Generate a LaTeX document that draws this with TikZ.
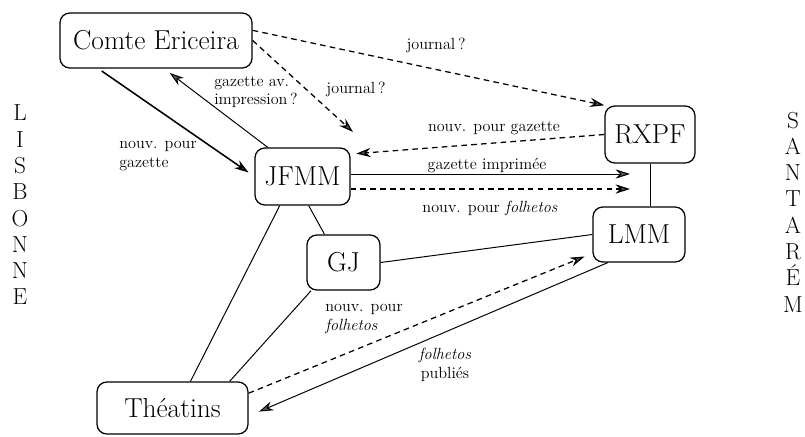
\documentclass[tikz,border=0pt]{standalone}
\usepackage{tikz}
\usetikzlibrary{arrows.meta}

\begin{document}
\begin{tikzpicture}[
    x=0.025cm, y=-0.025cm,
    >={Stealth[length=3.6mm, width=2.3mm, fill=black!65]},
    box/.style={draw, line width=0.9pt, rounded corners=7pt, inner sep=0pt,
        font=\fontsize{19.5}{22}\selectfont},
    lbl/.style={font=\fontsize{11.5}{13}\selectfont, inner sep=0pt},
    city/.style={font=\fontsize{16.5}{18.7}\selectfont, align=center, inner sep=0pt},
    link/.style={line width=0.7pt},
    dashlink/.style={line width=0.9pt, dash pattern=on 4pt off 3pt},
]
\useasboundingbox (0,0) rectangle (805,436);

% === Places ===
\node[city] (lisbonne) at (20,205) {L\\I\\S\\B\\O\\N\\N\\E};
\node[city] (santarem) at (793,212) {S\\A\\N\\T\\A\\R\\É\\M};

% === Actors ===
\node[box, minimum width=4.8cm, minimum height=1.375cm] (comte) at (156,40.5) {Comte Ericeira};
\node[box, minimum width=2.375cm, minimum height=1.425cm] (jfmm) at (302.5,176.5) {JFMM};
\node[box, minimum width=2.25cm, minimum height=1.425cm] (rxpf) at (650,134.5) {RXPF};
\node[box, minimum width=2.3cm, minimum height=1.375cm] (lmm) at (639,234.5) {LMM};
\node[box, minimum width=1.825cm, minimum height=1.375cm] (gj) at (343.5,262.5) {GJ};
\node[box, minimum width=3.775cm, minimum height=1.3cm] (theatins) at (172.5,408) {Théatins};

% free ends
\coordinate (jrntip) at (353,132);
\coordinate (gazend) at (630,174);
\coordinate (folend) at (630,189);

% === Flows from Comte Ericeira ===
\draw[dashlink, ->] (comte.6) -- (rxpf.north west);
\node[lbl] (jrn1) at (436,45) {journal\,?};
\draw[dashlink, ->] (comte.east) -- (jrntip);
\node[lbl] (jrn2) at (356,89) {journal\,?};
\draw[link, line width=1.1pt, ->, shorten <=3pt, shorten >=5pt] (comte.-154) -- (jfmm.west);
\node[lbl, align=left] (nvgaz) at (158,156) {nouv. pour\\gazette};
\draw[link, ->, shorten >=5pt] (jfmm.140) -- (comte.-74);
\node[lbl, align=left] (gazav) at (256,92) {gazette av.\\impression\,?};

% === JFMM and Santarém ===
\draw[dashlink, ->, shorten >=4pt] (rxpf.west) -- (jfmm.25);
\node[lbl] (nvgaz2) at (494,128) {nouv. pour gazette};
\draw[link, ->] (jfmm.east |- gazend) -- (gazend);
\node[lbl] (gazimp) at (487,166) {gazette imprimée};
\draw[dashlink, ->] (jfmm.east |- folend) -- (folend);
\node[lbl] (nvfol) at (490,208) {nouv. pour \textit{folhetos}};
\draw[link] (rxpf.south) -- (rxpf.south |- lmm.north);

% === Plain links ===
\draw[link] (gj.east) -- (lmm.west);
\draw[link] (jfmm.-78) -- (gj.124);
\draw[link] (jfmm.-128) -- (theatins.56);
\draw[link] (gj.-139) -- (theatins.25);

% === Théatins and LMM ===
\draw[dashlink, ->, shorten >=6pt] (theatins.11) -- (lmm.-158);
\node[lbl, align=left] (nvfol2) at (364,319) {nouv. pour\\\textit{folhetos}};
\draw[link, ->, shorten >=8pt] (lmm.-138) -- (theatins.-6);
\node[lbl, align=center] (fpub) at (445,365) {\textit{folhetos}\\publiés};

\end{tikzpicture}
\end{document}
